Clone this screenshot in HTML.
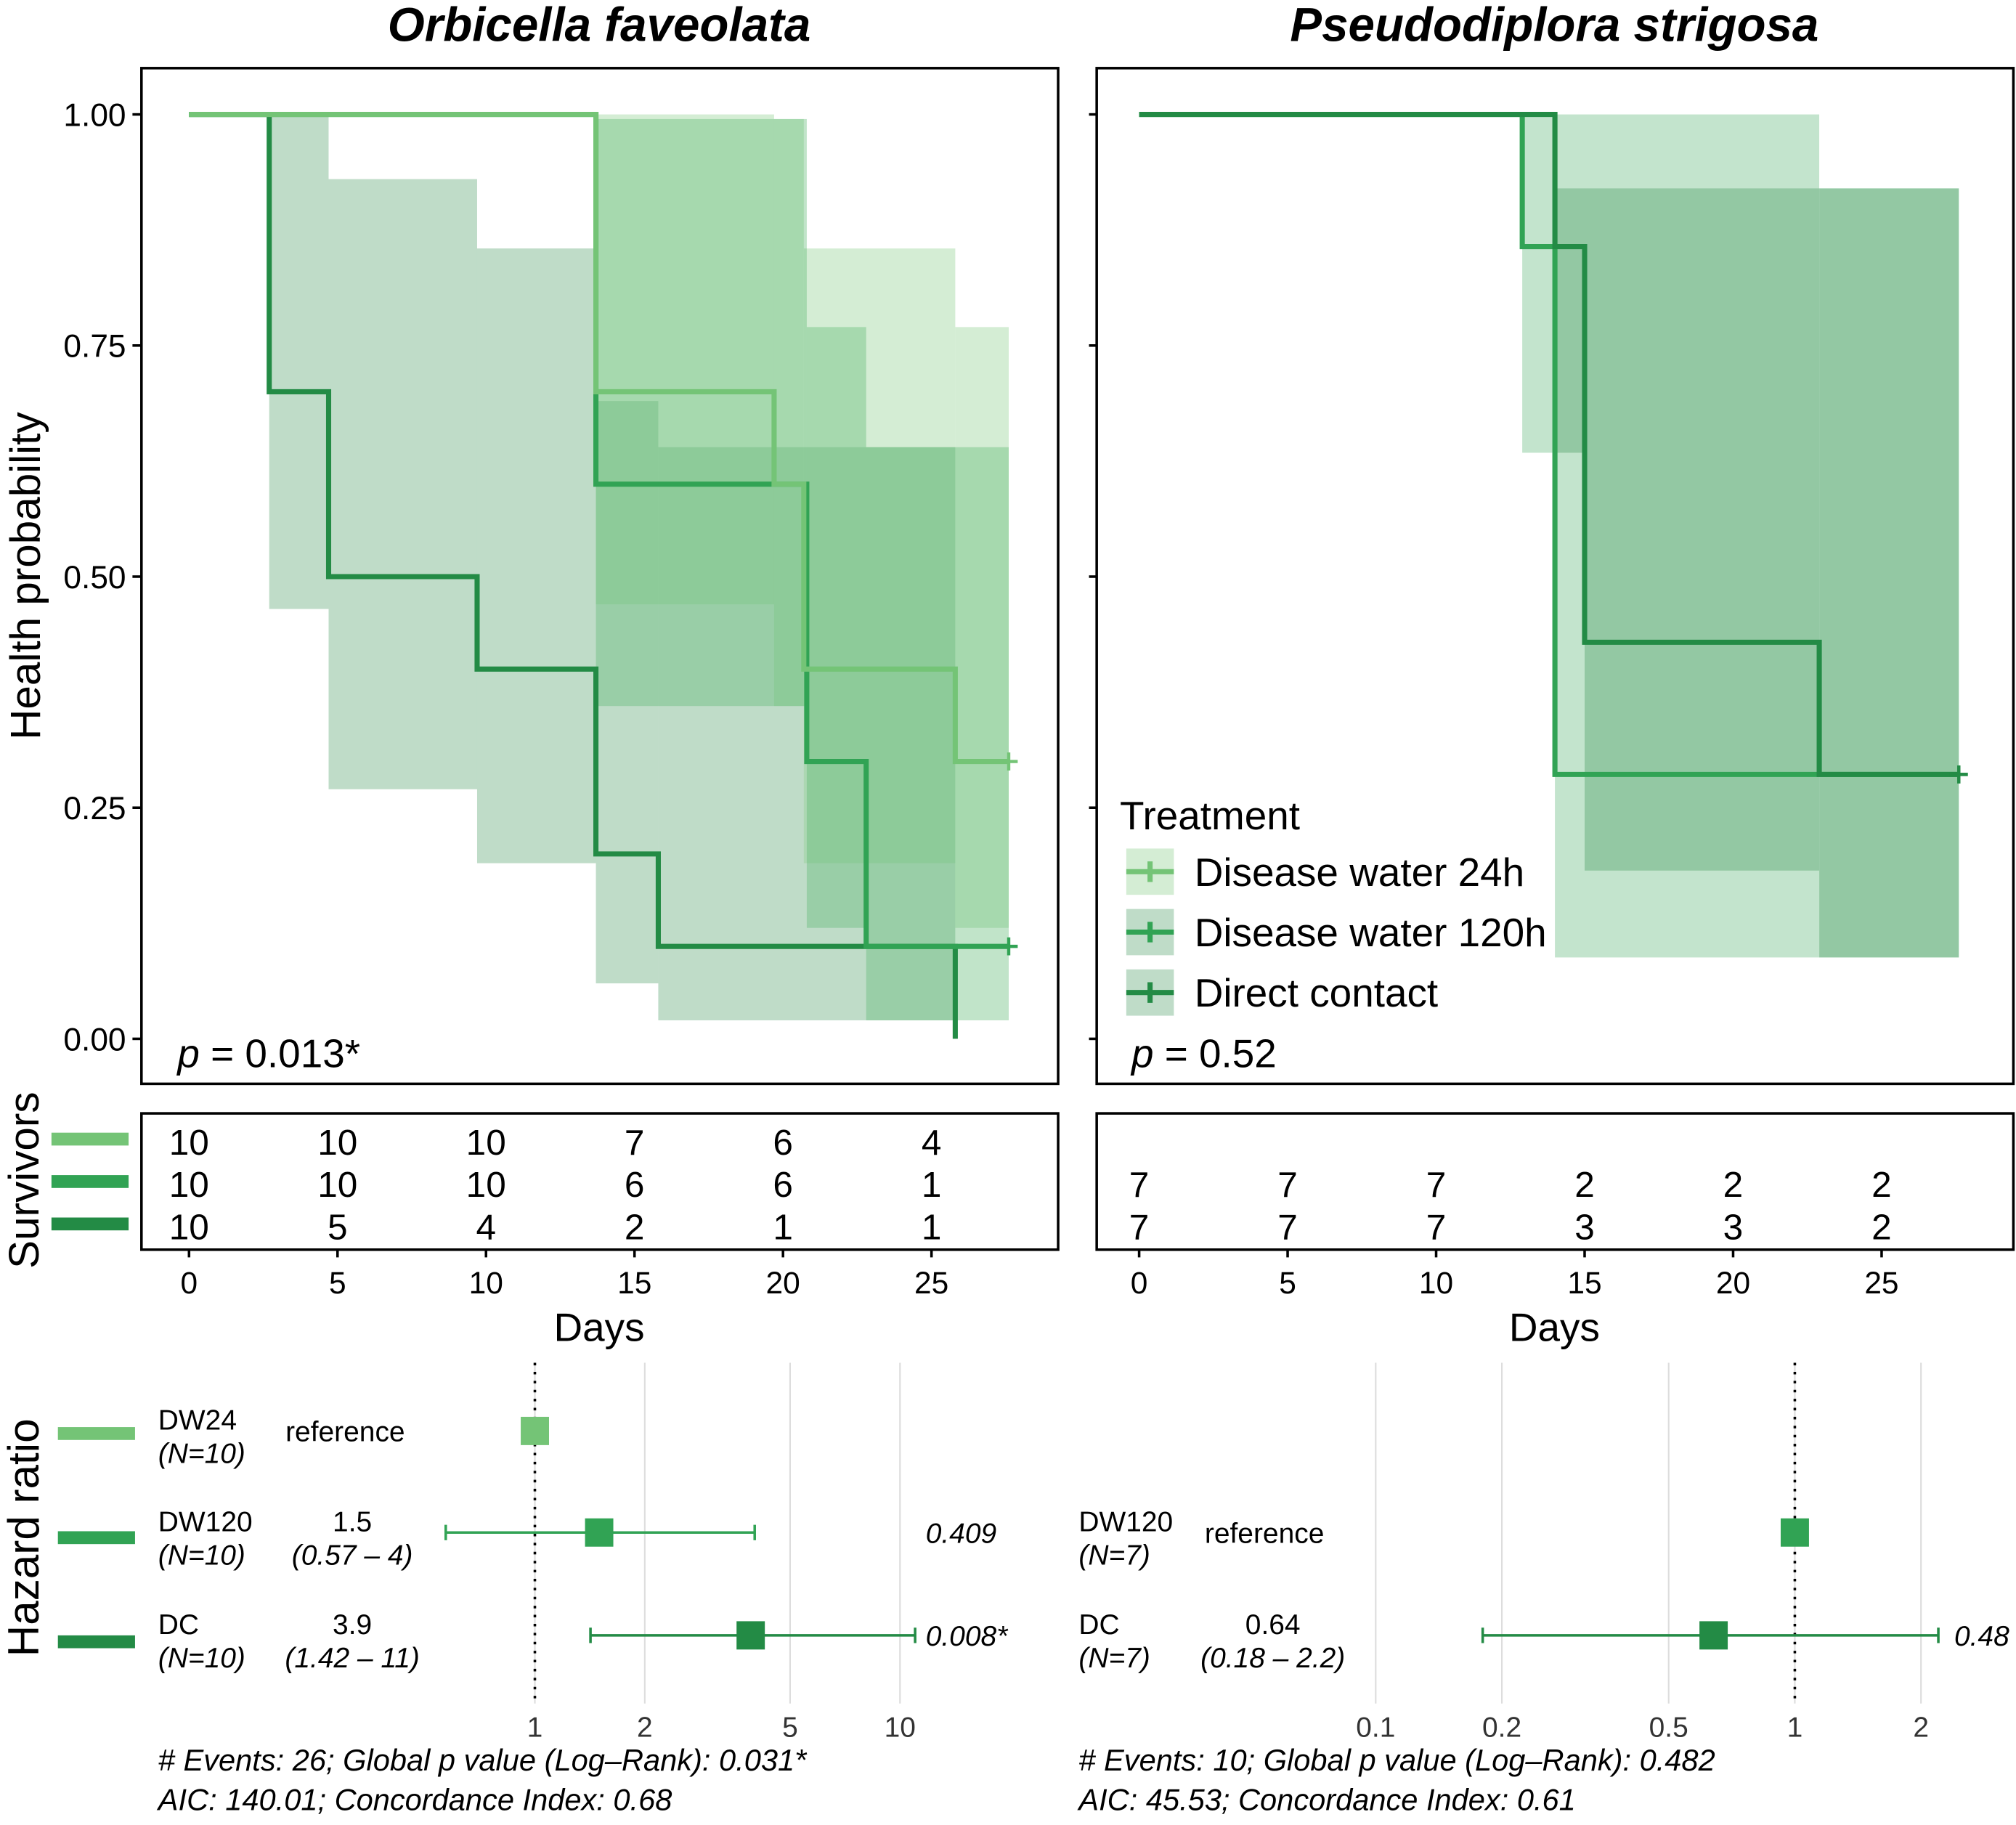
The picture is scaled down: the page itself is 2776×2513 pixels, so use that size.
<!DOCTYPE html>
<html><head><meta charset="utf-8"><style>
html,body{margin:0;padding:0;background:#fff}
svg{display:block}
text{font-family:"Liberation Sans",Arial,sans-serif}
</style></head><body>
<svg id="root" width="2776" height="2513" viewBox="0 0 1568 1419.5" xmlns="http://www.w3.org/2000/svg">
<g id="g"></g>
</svg>
<script>
// ---- data ----
const leftDays = [0,5,10,15,20,25];
const rightDays = [0,5,10,15,20,25];
const yTicks = [0,0.25,0.5,0.75,1];
const yTickLabels = ["0.00","0.25","0.50","0.75","1.00"];
// steps: [time, surv, upper, lower]
const ofDW24 = [[0,1,1,1],[13.7,0.7,1.0,0.47],[19.7,0.6,0.995,0.36],[20.7,0.4,0.855,0.19],[25.8,0.3,0.77,0.12]];
const ofDW24End = 27.6;
const ofDW120 = [[0,1,1,1],[13.7,0.6,0.995,0.36],[20.8,0.3,0.77,0.12],[22.8,0.1,0.64,0.02]];
const ofDW120End = 27.6;
const ofDC = [[0,1,1,1],[2.7,0.7,1.0,0.465],[4.7,0.5,0.93,0.27],[9.7,0.4,0.855,0.19],[13.7,0.2,0.69,0.06],[15.8,0.1,0.64,0.02],[25.8,0,0,0]];
const ofDCEnd = 25.8;
const psDW120 = [[0,1,1,1],[12.9,0.857,1.0,0.634],[14.0,0.286,1.0,0.088]];
const psDW120End = 27.6;
const psDW120RibbonEnd = 22.9;
const psDC = [[0,1,1,1],[14.0,0.857,0.92,0.634],[15.0,0.429,0.92,0.182],[22.9,0.286,0.92,0.088]];
const psDCEnd = 27.6;
const ofRisk24 = [10,10,10,7,6,4];
const ofRisk120 = [10,10,10,6,6,1];
const ofRiskDC = [10,5,4,2,1,1];
const psRisk120 = [7,7,7,2,2,2];
const psRiskDC = [7,7,7,3,3,2];
const ofHRLabels = ["DW24","DW120","DC"];
const ofHR = [1,1.5,3.9];
const ofLo = [null,0.57,1.42];
const ofHi = [null,4,11];
const ofP = ["","0.409","0.008*"];
const psHRLabels = ["DW120","DC"];
const psHR = [1,0.64];
const psLo = [null,0.18];
const psHi = [null,2.2];
const psP = ["","0.48"];
const ofForestTicks = [1,2,5,10];
const psForestTicks = [0.1,0.2,0.5,1,2];

// ---- helpers ----
const NS="http://www.w3.org/2000/svg";
const G=document.getElementById('g');
function el(tag,attrs,parent,txt){const e=document.createElementNS(NS,tag);for(const k in attrs)e.setAttribute(k,attrs[k]);if(txt!==undefined)e.textContent=txt;(parent||G).appendChild(e);return e;}
const C24="#74c476",C120="#31a354",CDC="#238b45";
const R24="#8fd08f",R120="#5cb870",RDC="#2b8a4a";

function panel(x0,off,name,title){
  const xs=d=>x0+off+d*23.1;
  const ys=v=>808-v*719;
  const box=el('rect',{x:x0,y:53,width:713,height:790,fill:'none',stroke:'#000','stroke-width':2});
  
  const t=el('text',{x:x0+356,y:32,'font-size':37,'font-weight':'bold','font-style':'italic','text-anchor':'middle'},G,title);
  
  return {xs,ys};
}
function ribbon(steps,end,color,op,a,name){
  const g=el('g',{});
  for(let i=0;i<steps.length;i++){
    const t0=steps[i][0],t1=i+1<steps.length?steps[i+1][0]:end;
    if(t1<=t0)continue;
    const r=el('rect',{x:a.xs(t0),y:a.ys(steps[i][2]),width:a.xs(t1)-a.xs(t0),height:a.ys(steps[i][3])-a.ys(steps[i][2]),fill:color,'fill-opacity':op},g);
    
  }
}
function curve(steps,end,color,a,name,censor){
  let d='M'+a.xs(steps[0][0])+','+a.ys(steps[0][1]);
  for(let i=1;i<steps.length;i++){d+=' H'+a.xs(steps[i][0])+' V'+a.ys(steps[i][1]);}
  d+=' H'+a.xs(end);
  const p=el('path',{d:d,fill:'none',stroke:color,'stroke-width':4});
  
  if(censor){const v=steps[steps.length-1][1];const x=a.xs(end),y=a.ys(v);
    const c=el('path',{d:`M${x-7},${y}H${x+7}M${x},${y-7}V${y+7}`,stroke:color,'stroke-width':2.5});
    }
}

// left panel
const A=panel(110,37,'orbicella','Orbicella faveolata');
ribbon(ofDC,ofDCEnd,RDC,0.3,A,'dc-ci-ribbon');
ribbon(ofDW24,ofDW24End,R24,0.38,A,'dw24-ci-ribbon');
ribbon(ofDW120,ofDW120End,R120,0.38,A,'dw120-ci-ribbon');
curve(ofDC,ofDCEnd,CDC,A,'dc-curve',false);
curve(ofDW120,ofDW120End,C120,A,'dw120-curve',true);
curve(ofDW24,ofDW24End,C24,A,'dw24-curve',true);
// y axis
yTicks.forEach((v,i)=>{
  const tk=el('line',{x1:103,x2:110,y1:A.ys(v),y2:A.ys(v),stroke:'#000','stroke-width':2});
  
  const tl=el('text',{x:98,y:A.ys(v)+9,'font-size':25,'text-anchor':'end'},G,yTickLabels[i]);
  
});
let yt=el('text',{x:31,y:448,'font-size':33,'text-anchor':'middle',transform:'rotate(-90 31 448)'},G,'Health probability');

let pv=el('text',{x:138,y:830,'font-size':31},G);
el('tspan',{'font-style':'italic'},pv,'p');el('tspan',{},pv,' = 0.013*');


// right panel
const B=panel(853,33,'pseudodiploria','Pseudodiplora strigosa');
ribbon(psDW120,psDW120RibbonEnd,'#c3e4cd',1,B,'ps-dw120-ci-ribbon');
ribbon(psDC,psDCEnd,'#93c8a3',1,B,'ps-dc-ci-ribbon');
curve(psDW120,psDW120End,C120,B,'ps-dw120-curve',true);
curve(psDC,psDCEnd,CDC,B,'ps-dc-curve',true);
yTicks.forEach(v=>{const tk=el('line',{x1:847,x2:853,y1:B.ys(v),y2:B.ys(v),stroke:'#000','stroke-width':2});
  });
let pv2=el('text',{x:880,y:830,'font-size':31},G);
el('tspan',{'font-style':'italic'},pv2,'p');el('tspan',{},pv2,' = 0.52');

// legend
const lg=el('g',{});
el('text',{x:871,y:645,'font-size':31},lg,'Treatment');
[["Disease water 24h",C24,R24,0.38],["Disease water 120h",C120,RDC,0.3],["Direct contact",CDC,RDC,0.3]].forEach((e,i)=>{
  const y=678+i*47;
  const en=el('g',{},lg);
  el('rect',{x:876,y:y-18,width:37,height:36,fill:e[2],'fill-opacity':e[3]},en);
  el('path',{d:`M876,${y}H913M894.5,${y-8}V${y+8}`,stroke:e[1],'stroke-width':4},en);
  el('text',{x:929,y:y+11,'font-size':31},en,e[0]);
});

// survivor tables
function riskTable(x0,a,days,rows,name){
  const b=el('rect',{x:x0,y:866,width:713,height:106,fill:'none',stroke:'#000','stroke-width':2});
  
  rows.forEach(r=>{ r[0].forEach((n,i)=>{
    const t=el('text',{x:a.xs(days[i]),y:r[1]+10,'font-size':28,'text-anchor':'middle'},G,n);
    });});
  days.forEach(d=>{
    const tk=el('line',{x1:a.xs(d),x2:a.xs(d),y1:972,y2:978,stroke:'#000','stroke-width':2});
    
    const tl=el('text',{x:a.xs(d),y:1006,'font-size':24,'text-anchor':'middle'},G,d);
    
  });
  const xt=el('text',{x:x0+356,y:1043,'font-size':31,'text-anchor':'middle'},G,'Days');
  
}
riskTable(110,A,leftDays,[[ofRisk24,888],[ofRisk120,921],[ofRiskDC,954]],'left');
riskTable(853,B,rightDays,[[psRisk120,921],[psRiskDC,954]],'right');
[[C24,886],[C120,919],[CDC,952]].forEach(s=>{const r=el('rect',{x:40,y:s[1]-5,width:60,height:10,fill:s[0]});
  });
let st=el('text',{x:30,y:918,'font-size':33,'text-anchor':'middle',transform:'rotate(-90 30 918)'},G,'Survivors');


// forest plots
const rowY=[1113,1192,1272];
function forest(fx,ticks,labels,hr,lo,hi,pvals,rowsIdx,cols,lx,ns,name,textCols){
  ticks.forEach(t=>{
    const x=fx(t);
    const gl=el('line',{x1:x,x2:x,y1:1060,y2:1325,stroke:'#ddd','stroke-width':1.2});
    
    const tl=el('text',{x:x,y:1351,'font-size':22,'text-anchor':'middle',fill:'#333'},G,t);
    
  });
  const rl=el('line',{x1:fx(1),x2:fx(1),y1:1060,y2:1325,stroke:'#000','stroke-width':2,'stroke-dasharray':'2,5'});
  
  labels.forEach((lab,i)=>{
    const y=rowY[rowsIdx[i]],c=cols[i];
    const g=el('g',{});
    el('text',{x:lx,y:y-1,'font-size':22},g,lab);
    el('text',{x:lx,y:y+25,'font-size':22,'font-style':'italic'},g,'(N='+ns+')');
    if(lo[i]===null){
      el('text',{x:textCols[0],y:y+8,'font-size':22},g,'reference');
    } else {
      el('text',{x:textCols[1],y:y-1,'font-size':22,'text-anchor':'middle'},g,hr[i]);
      el('text',{x:textCols[1],y:y+25,'font-size':22,'font-style':'italic','text-anchor':'middle','xml:space':'preserve'},g,'('+lo[i]+' \u2013 '+(hi[i]<10?'  ':'')+hi[i]+')');
      el('path',{d:`M${fx(lo[i])},${y}H${fx(hi[i])}M${fx(lo[i])},${y-6}V${y+6}M${fx(hi[i])},${y-6}V${y+6}`,stroke:c,'stroke-width':2},g);
      el('text',{x:textCols[2],y:y+8,'font-size':22,'font-style':'italic'},g,pvals[i]);
    }
    el('rect',{x:fx(hr[i])-11,y:y-11,width:22,height:22,fill:c},g);
  });
}
const fxL=v=>416+Math.log10(v)*284;
const fxR=v=>1396+Math.log10(v)*326;
forest(fxL,ofForestTicks,ofHRLabels,ofHR,ofLo,ofHi,ofP,[0,1,2],[C24,C120,CDC],123,10,'left-forest',[222,274,720]);
forest(fxR,psForestTicks,psHRLabels,psHR,psLo,psHi,psP,[1,2],[C120,CDC],839,7,'right-forest',[937,990,1520]);
[[C24,1115],[C120,1196],[CDC,1277]].forEach(s=>{const r=el('rect',{x:45,y:s[1]-5,width:60,height:10,fill:s[0]});
  });
let hrT=el('text',{x:30,y:1196,'font-size':34,'text-anchor':'middle',transform:'rotate(-90 30 1196)'},G,'Hazard ratio');

[[123,'# Events: 26; Global p value (Log\u2013Rank): 0.031*','AIC: 140.01; Concordance Index: 0.68'],[839,'# Events: 10; Global p value (Log\u2013Rank): 0.482','AIC: 45.53; Concordance Index: 0.61']].forEach(f=>{
  const a=el('text',{x:f[0],y:1377,'font-size':23.5,'font-style':'italic'},G,f[1]);
  
  const b=el('text',{x:f[0],y:1408,'font-size':23.5,'font-style':'italic'},G,f[2]);
  
});
</script>
</body></html>
